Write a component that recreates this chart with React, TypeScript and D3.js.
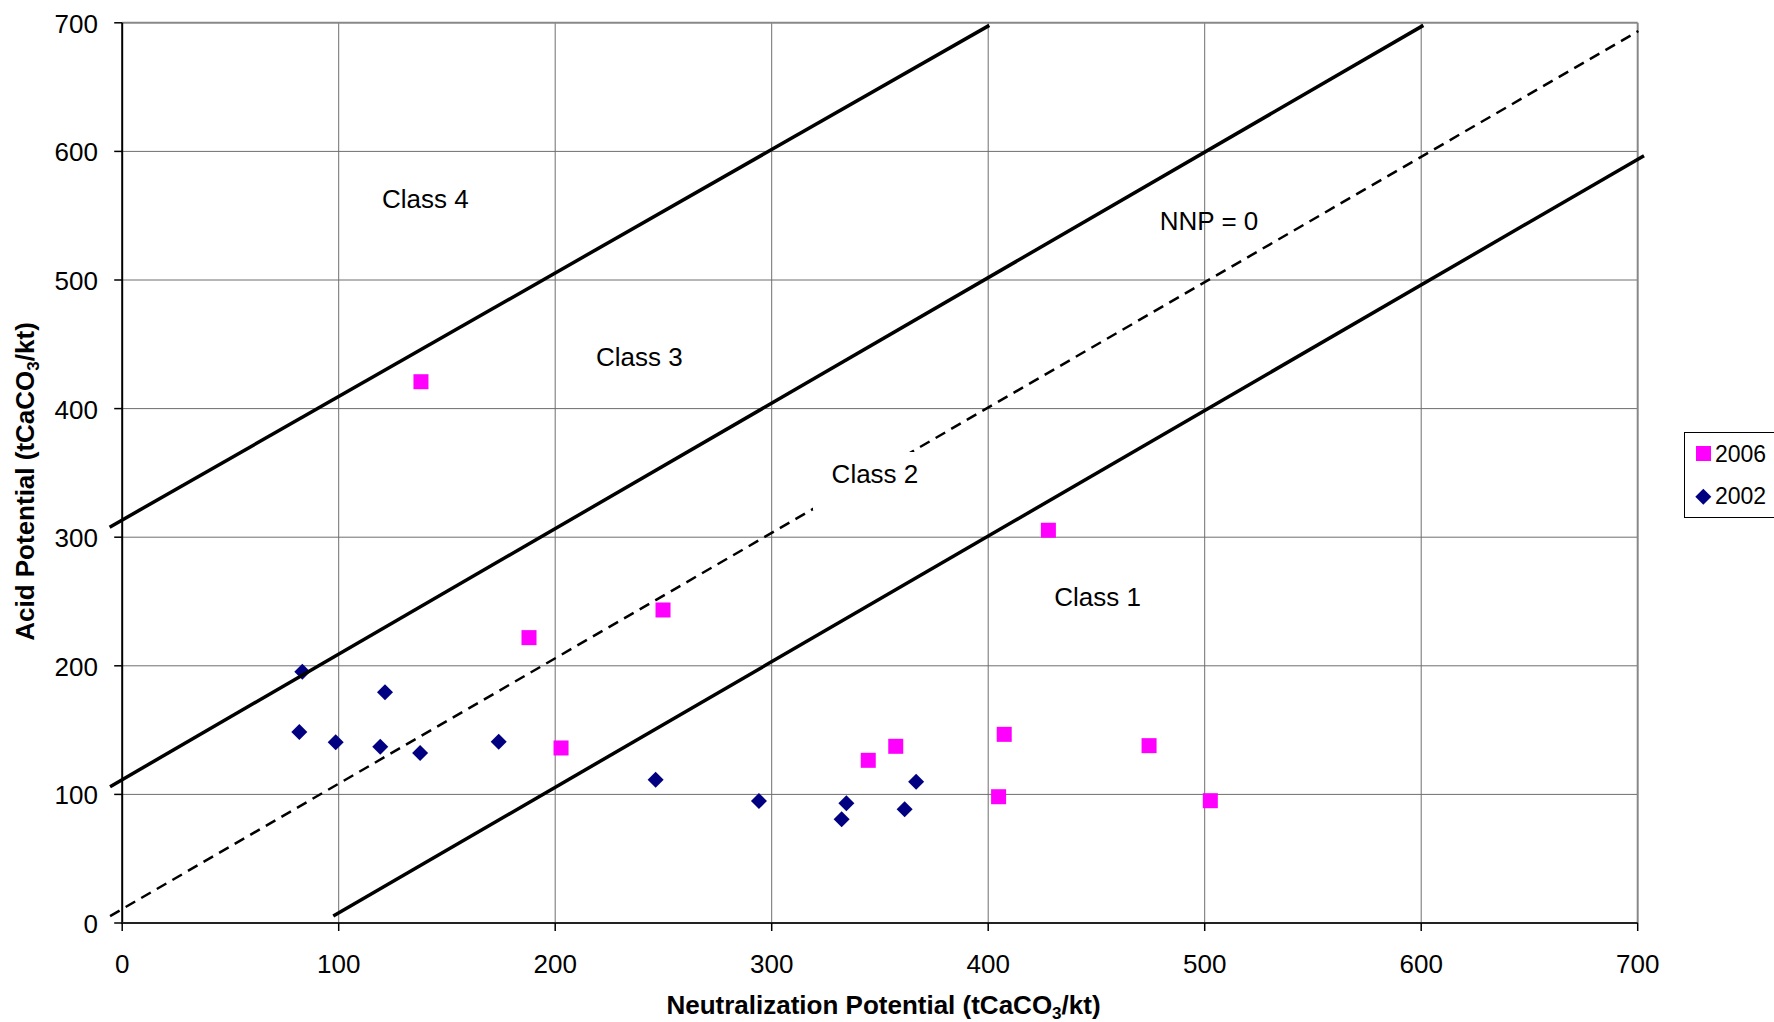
import React from "react";
import * as d3 from "d3";

const ticks = [0, 100, 200, 300, 400, 500, 600, 700];

// 2006 series (magenta squares)
const np2006 = [138, 187.9, 249.8, 202.7, 344.6, 357.3, 407.4, 404.8, 427.8, 474.3, 502.6];
const ap2006 = [420.9, 221.9, 243.4, 136.1, 126.5, 137.4, 146.7, 98.2, 305.4, 137.9, 95.1];

// 2002 series (navy diamonds)
const np2002 = [83.2, 121.4, 81.8, 98.6, 119.2, 137.6, 173.9, 246.4, 294.1, 334.5, 332.3, 361.4, 366.7];
const ap2002 = [195.4, 179.4, 148.5, 140.5, 137.1, 132.2, 141, 111.4, 94.9, 93.1, 80.6, 88.4, 109.9];

// class boundary lines: [x0, y0, x1, y1] in data units
const lineNames = ["class4", "class3", "nnp0", "class1"];
const lineX0 = [-5.8, -5.6, -5.6, 97.5];
const lineY0 = [307.8, 106, 5.4, 5.4];
const lineX1 = [400.5, 601, 700.3, 702.9];
const lineY1 = [698, 698, 693.6, 596.7];
const lineDashed = [false, false, true, false];

// region labels
const labelText = ["Class 4", "Class 3", "Class 2", "NNP = 0", "Class 1"];
const labelNP = [140.0, 238.9, 347.7, 502.0, 450.5];
const labelAP = [555.6, 433.3, 341.9, 538.9, 246.5];

const legendNames = ["2006", "2002"];

const FONT = "'Liberation Sans', Arial, sans-serif";

export default function App() {
  const left = 122.2, right = 1637.7, top = 22.8, bottom = 923;
  const x = d3.scaleLinear().domain([0, 700]).range([left, right]);
  const y = d3.scaleLinear().domain([0, 700]).range([bottom, top]);
  const lineGen = d3.line<[number, number]>().x((d) => x(d[0])).y((d) => y(d[1]));
  const sq = 15;
  const dr = 8;
  const diamond = `M0,${-dr}L${dr},0L0,${dr}L${-dr},0Z`;

  return (
    <svg width={1774} height={1022} style={{ position: "absolute", left: 0, top: 0, background: "#fff" }}
      fontFamily={FONT}>
      <rect x={0} y={0} width={1774} height={1022} fill="#fff" />
      {/* gridlines */}
      {ticks.slice(1, 7).map((t) => (
        <line key={"gx" + t} x1={x(t)} x2={x(t)} y1={top} y2={bottom} stroke="#6e6e6e" strokeWidth={1} />
      ))}
      {ticks.slice(1, 7).map((t) => (
        <line key={"gy" + t} x1={left} x2={right} y1={y(t)} y2={y(t)} stroke="#6e6e6e" strokeWidth={1} />
      ))}
      {/* plot border top/right */}
      <line x1={left} x2={right} y1={top} y2={top} stroke="#888" strokeWidth={2} />
      <line x1={right} x2={right} y1={top} y2={bottom} stroke="#888" strokeWidth={2} />

      {/* 2006 squares */}
      {np2006.map((v, i) => (
        <rect key={"s" + i} x={x(v) - sq / 2} y={y(ap2006[i]) - sq / 2} width={sq} height={sq} fill="#ff00ff" />
      ))}
      {/* 2002 diamonds */}
      {np2002.map((v, i) => (
        <path key={"d" + i} d={diamond} transform={`translate(${x(v)},${y(ap2002[i])})`} fill="#000080" />
      ))}

      {/* class lines */}
      {lineNames.map((n, i) => (
        <path key={n} d={lineGen([[lineX0[i], lineY0[i]], [lineX1[i], lineY1[i]]]) || ""}
          stroke="#000" fill="none" strokeWidth={lineDashed[i] ? 2.5 : 3.5}
          strokeDasharray={lineDashed[i] ? "11,7" : undefined} />
      ))}

      {/* white box behind Class 2 */}
      <rect x={813} y={452} width={117} height={58} fill="#fff" />

      {labelText.map((t, i) => (
        <text key={t} x={x(labelNP[i])} y={y(labelAP[i])} textAnchor="middle" fontSize={26} fill="#000">{t}</text>
      ))}

      {/* axes */}
      <line x1={left} x2={left} y1={top} y2={bottom + 1} stroke="#000" strokeWidth={2} />
      <line x1={left - 1} x2={right} y1={bottom} y2={bottom} stroke="#222" strokeWidth={2} />
      {ticks.map((t) => (
        <g key={"ty" + t}>
          <line x1={left - 8} x2={left} y1={y(t)} y2={y(t)} stroke="#000" strokeWidth={1.5} />
          <text x={98} y={y(t) + 10} textAnchor="end" fontSize={26} fill="#000">{t}</text>
        </g>
      ))}
      {ticks.map((t) => (
        <g key={"tx" + t}>
          <line x1={x(t)} x2={x(t)} y1={bottom} y2={bottom + 8} stroke="#000" strokeWidth={1.5} />
          <text x={x(t)} y={973} textAnchor="middle" fontSize={26} fill="#000">{t}</text>
        </g>
      ))}

      {/* axis titles */}
      <text x={883.5} y={1014} textAnchor="middle" fontSize={26} fontWeight="bold" fill="#000">
        Neutralization Potential (tCaCO<tspan dy={5} fontSize={17}>3</tspan><tspan dy={-5}>/kt)</tspan>
      </text>
      <text transform="translate(34,481.5) rotate(-90)" textAnchor="middle" fontSize={26} fontWeight="bold" fill="#000">
        Acid Potential (tCaCO<tspan dy={5} fontSize={17}>3</tspan><tspan dy={-5}>/kt)</tspan>
      </text>

      {/* legend */}
      <rect x={1684.5} y={432.5} width={120} height={85} fill="#fff" stroke="#000" strokeWidth={1} />
      <rect x={1696} y={446} width={15} height={15} fill="#ff00ff" />
      <text x={1715} y={462} fontSize={23} fill="#000">{legendNames[0]}</text>
      <path d={diamond} transform="translate(1703.3,496.7)" fill="#000080" />
      <text x={1715} y={503.5} fontSize={23} fill="#000">{legendNames[1]}</text>
    </svg>
  );
}
